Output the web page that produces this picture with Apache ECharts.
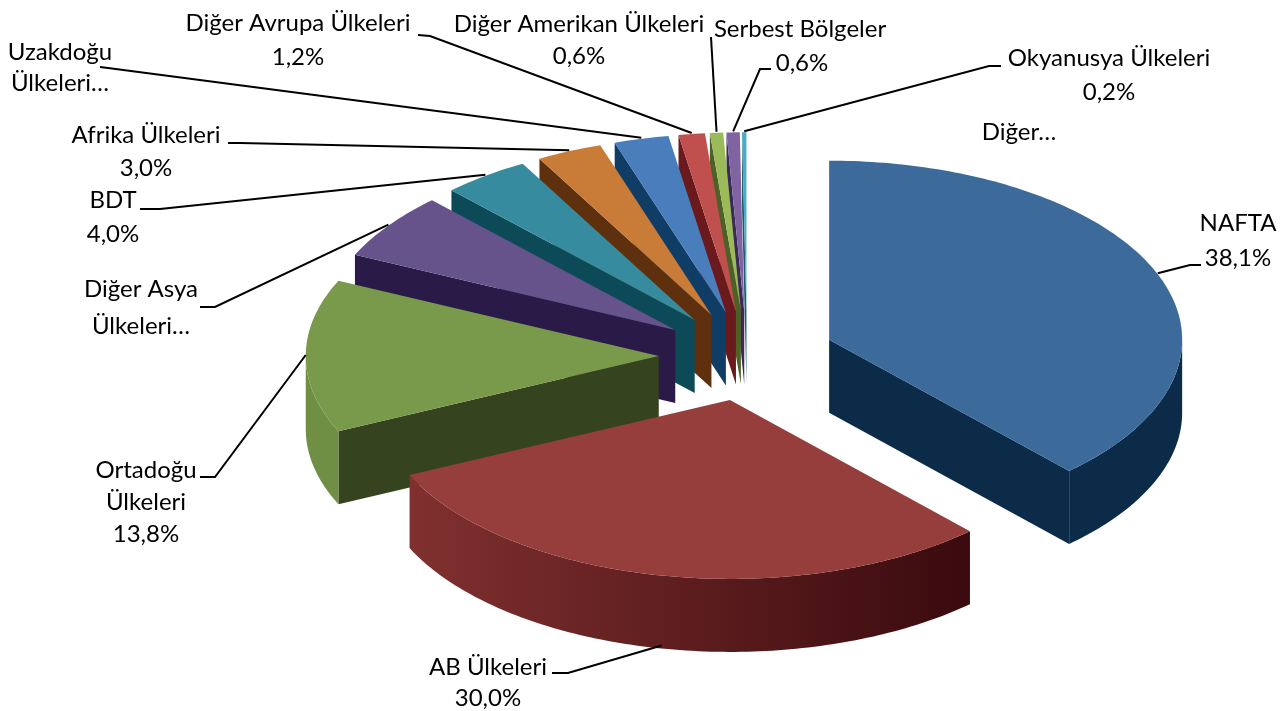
<!DOCTYPE html>
<html><head><meta charset="utf-8">
<style>html,body{margin:0;padding:0;background:#fff}#c{width:1285px;height:711px}</style>
<script src="https://cdn.jsdelivr.net/npm/echarts@6/dist/echarts.min.js"></script>
</head><body><div id="c"></div>
<script>
const categories = ['NAFTA','AB Ülkeleri','Ortadoğu Ülkeleri','Diğer Asya Ülkeleri','BDT','Afrika Ülkeleri','Uzakdoğu Ülkeleri','Diğer Avrupa Ülkeleri','Diğer Amerikan Ülkeleri','Serbest Bölgeler','Okyanusya Ülkeleri','Diğer'];
const shares = [38.1,30.0,13.8,6.0,4.0,3.0,2.5,1.2,0.6,0.6,0.2,0.0];
const labelLines = [
  ['NAFTA','38,1%'],['AB Ülkeleri','30,0%'],['Ortadoğu','Ülkeleri','13,8%'],['Diğer Asya','Ülkeleri…'],
  ['BDT','4,0%'],['Afrika Ülkeleri','3,0%'],['Uzakdoğu','Ülkeleri…'],['Diğer Avrupa Ülkeleri','1,2%'],
  ['Diğer Amerikan Ülkeleri','0,6%'],['Serbest Bölgeler','0,6%'],['Okyanusya Ülkeleri','0,2%'],['Diğer…']
];
const topColors  = ['#3C6A9A','#963E3C','#789A4A','#67538C','#378B9F','#C87C38','#4A7DBB','#C0504D','#9BBB59','#8064A2','#4BACC6','#F79646'];
const wallColors = ['#0B2B48','#4A1518','#35431E','#2A1A48','#0D4A58','#5E300D','#0F3D66','#6A1A1C','#4D6126','#3B2A58','#1F5C70','#8A4A14'];
const rimLeft    = ['#0B2B48','#80302F','#6F8F44','#2A1A48','#0D4A58','#5E300D','#0F3D66','#6A1A1C','#4D6126','#3B2A58','#1F5C70','#8A4A14'];
const rimRight   = ['#0B2B48','#3A0A0E','#6F8F44','#2A1A48','#0D4A58','#5E300D','#0F3D66','#6A1A1C','#4D6126','#3B2A58','#1F5C70','#8A4A14'];
// label layout: centre x and y of each text line, then leader knee points
const labelX = [[1238,1238],[488,488],[146,146,146],[141,141],[113,113],[146,146],[60,60],[298,298],[579,579],[800,802],[1109,1109],[1019]];
const labelY = [[223,258],[667,698],[470,502,534],[289,326],[200,234],[135,168],[52,83],[23,57],[24,56],[29,63],[58,92],[132]];
const leaderKnees = [[[1190,265],[1201,265]],[[568,673],[552,673]],[[215,477],[200,477]],[[215,307],[200,307]],[[160,209],[140,209]],[[240,143],[228,143]],[[108,68],[100,67]],[[430,36],[418,35]],[[711,37]],[[760,69],[771,69]],[[989,66],[1001,66]],null];

const CX=747, CY=356, A=353, B=179, DEPTH=73, EXPLODE=0.25;
const FONT='Lato';
const rad=d=>d*Math.PI/180;
const total=shares.reduce((s,v)=>s+v,0);
function geom(i){
  let s=0; for(let k=0;k<i;k++) s+=shares[k];
  const a0=s/total*360, a1=(s+shares[i])/total*360, mid=(a0+a1)/2;
  const dir=t=>[A*Math.sin(rad(t)),-B*Math.cos(rad(t))];
  const m=dir(mid);
  return {a0,a1,mid,dir,ox:CX+EXPLODE*m[0],oy:CY+EXPLODE*m[1]};
}
function arcPts(g,from,to,dy){
  const n=Math.max(1,Math.ceil(to-from)),pts=[];
  for(let j=0;j<=n;j++){const t=from+(to-from)*j/n,d=g.dir(t);pts.push([g.ox+d[0],g.oy+d[1]+dy]);}
  return pts;
}
function wallVisible(g,t){
  const d=g.dir(t),m=g.dir(g.mid);
  if(Math.abs(d[0])<1e-6) return false;
  return m[1]<(m[0]/d[0])*d[1];
}
function renderSlice(params,api){
  const i=api.value(0),g=geom(i),children=[];
  if(shares[i]<=0) return {type:'group',children};
  [g.a0,g.a1].forEach(t=>{
    if(!wallVisible(g,t)) return;
    const d=g.dir(t),ex=g.ox+d[0],ey=g.oy+d[1];
    children.push({type:'polygon',shape:{points:[[g.ox,g.oy],[ex,ey],[ex,ey+DEPTH],[g.ox,g.oy+DEPTH]]},style:{fill:wallColors[i]}});
  });
  const f=Math.max(g.a0,90),e=Math.min(g.a1,270);
  if(e>f){
    const upper=arcPts(g,f,e,0),lower=arcPts(g,f,e,DEPTH).reverse();
    children.push({type:'polygon',shape:{points:upper.concat(lower)},style:{fill:{type:'linear',x:1,y:0,x2:0,y2:0,colorStops:[{offset:0,color:rimRight[i]},{offset:1,color:rimLeft[i]}]}}});
  }
  children.push({type:'polygon',shape:{points:[[g.ox,g.oy]].concat(arcPts(g,g.a0,g.a1,0))},style:{fill:topColors[i]}});
  return {type:'group',children};
}
function renderLabel(params,api){
  const i=api.value(0),g=geom(i),children=[];
  if(leaderKnees[i]){
    const d=g.dir(g.mid),front=Math.cos(rad(g.mid))<-0.5;
    const start=[g.ox+d[0],g.oy+d[1]+(front?DEPTH-3:-1)];
    children.push({type:'polyline',shape:{points:[start].concat(leaderKnees[i])},style:{stroke:'#000',lineWidth:2,fill:null}});
  }
  labelLines[i].forEach((t,j)=>children.push({type:'text',style:{text:t,x:labelX[i][j],y:labelY[i][j],align:'center',verticalAlign:'middle',fontFamily:FONT,fontSize:24,fill:'#000'}}));
  return {type:'group',children};
}
const order=shares.map((_,i)=>[shares.length-1-i]);
const chart=echarts.init(document.getElementById('c'),null,{renderer:'canvas'});
chart.setOption({
  animation:false,backgroundColor:'#fff',
  series:[
    {type:'custom',name:'Pay',coordinateSystem:'none',silent:true,data:order,renderItem:renderSlice,z:2},
    {type:'custom',name:'Etiket',coordinateSystem:'none',silent:true,data:order,renderItem:renderLabel,z:3}
  ]
});
</script></body></html>
